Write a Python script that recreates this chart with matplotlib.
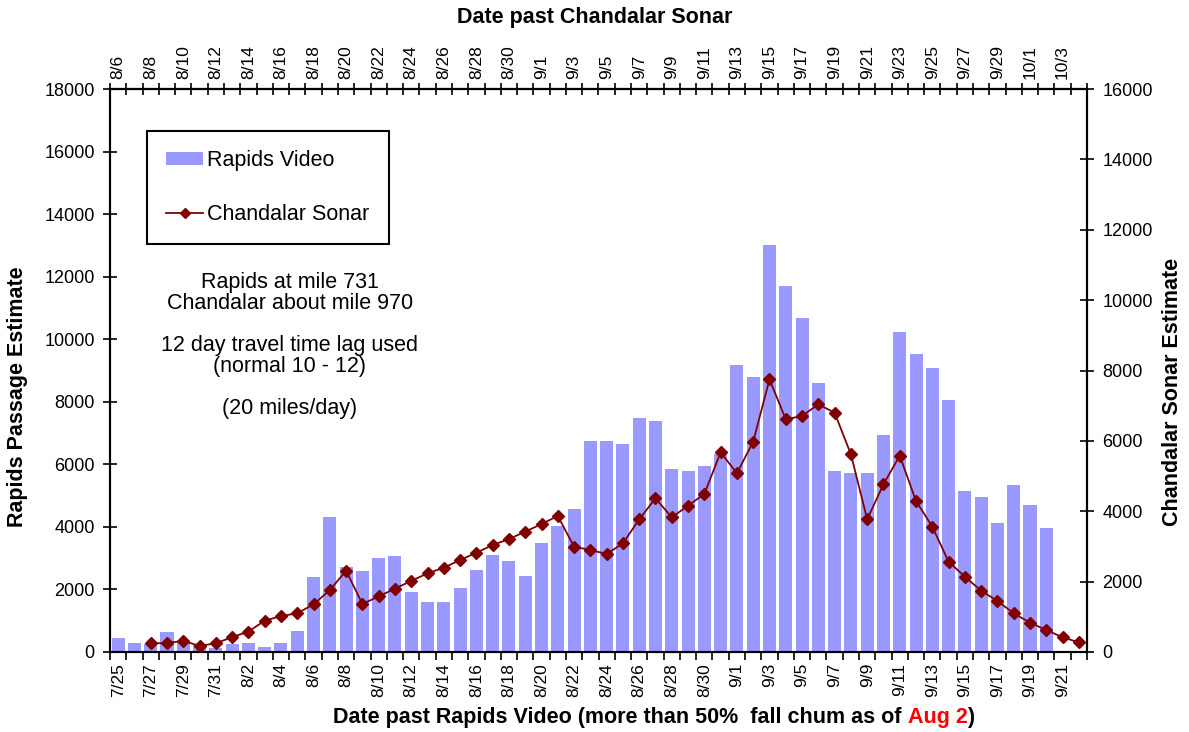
import numpy as np
import pandas as pd
import matplotlib
matplotlib.use("Agg")
import matplotlib.pyplot as plt
from matplotlib.patches import Patch
from matplotlib.lines import Line2D

plt.rcParams['font.family'] = ['Liberation Sans', 'DejaVu Sans']

# --- data ---
LAG_DAYS = 12  # travel time Rapids -> Chandalar
rapids_dates = pd.date_range("2010-07-25", "2010-09-22")
sonar_dates = rapids_dates + pd.Timedelta(days=LAG_DAYS)
date_labels = [f"{d.month}/{d.day}" for d in rapids_dates]
top_labels = [f"{d.month}/{d.day}" for d in sonar_dates]

# Rapids video passage, 7/25 - 9/20
rapids_video = [
    440, 300, 260, 630, 300, 270, 140,
    250, 300, 150, 300, 680, 2390, 4330, 2730, 2590, 3010,
    3060, 1910, 1610, 1610, 2050, 2620, 3110, 2920, 2430, 3500,
    4040, 4560, 6750, 6750, 6650, 7470, 7390, 5840, 5790, 5960, 6320,
    9180, 8800, 13010, 11700, 10690, 8610, 5790, 5710, 5710, 6940,
    10240, 9520, 9090, 8060, 5150, 4950, 4110, 5340, 4700, 3970,
]
# Chandalar sonar, lagged onto rapids dates 7/27 - 9/22
SONAR_START = 2
chandalar_sonar = [
    250, 250, 320, 170, 250,
    420, 580, 890, 1020, 1100, 1355, 1760, 2310, 1365, 1580,
    1800, 2020, 2236, 2396, 2614, 2822, 3041, 3211, 3419, 3637,
    3865, 2992, 2899, 2785, 3088, 3771, 4368, 3827, 4158, 4490, 5675,
    5078, 5977, 7750, 6613, 6707, 7039, 6801, 5618, 3771, 4766,
    5580, 4291, 3561, 2566, 2140, 1742, 1449, 1099, 833, 625,
    417, 276,
]

NOTE = ("Rapids at mile 731\nChandalar about mile 970\n\n"
        "12 day travel time lag used\n(normal 10 - 12)\n\n(20 miles/day)")

BAR_COLOR = '#9999ff'
LINE_COLOR = '#800000'

fig = plt.figure(figsize=(11.89, 7.32), dpi=100)
ax = fig.add_axes([110 / 1189, 1 - 652 / 732, 977 / 1189, 563 / 732])
ax2 = ax.twinx()

x = np.arange(len(date_labels))
ax.bar(x[:len(rapids_video)], rapids_video, width=0.8, color=BAR_COLOR, zorder=2)
ax2.plot(x[SONAR_START:SONAR_START + len(chandalar_sonar)], chandalar_sonar,
         color=LINE_COLOR, lw=1.3, marker='D', ms=6.5, zorder=3)

ax.set_xlim(-0.5, len(x) - 0.5)
ax.set_ylim(0, 18000)
ax2.set_ylim(0, 16000)
ax.set_yticks(np.arange(0, 18001, 2000))
ax2.set_yticks(np.arange(0, 16001, 2000))

bounds = np.arange(-0.5, len(x))
ax.set_xticks(bounds, labels=[])
ax.set_xticks(x[::2], labels=date_labels[::2], minor=True)
ax.tick_params(axis='x', which='minor', length=0, labelsize=12.5, labelrotation=90, pad=8)
ax.tick_params(axis='x', which='major', direction='out', length=6, width=1.2)

top = ax.secondary_xaxis('top')
top.set_xticks(bounds, labels=[])
top.set_xticks(x[::2], labels=top_labels[::2], minor=True)
top.tick_params(axis='x', which='minor', length=0, labelsize=12.5, labelrotation=90, pad=7)
top.tick_params(axis='x', which='major', direction='inout', length=8, width=1.2)
top.spines['top'].set_linewidth(1.5)

ax.tick_params(axis='y', direction='inout', length=10, width=1.2, labelsize=13, pad=6)
ax2.tick_params(axis='y', direction='inout', length=10, width=1.2, labelsize=13, pad=6)
for a in (ax, ax2):
    for s in a.spines.values():
        s.set_linewidth(1.5)

ax.set_ylabel('Rapids Passage Estimate', fontsize=15.5, fontweight='bold')
ax.yaxis.set_label_coords(-0.084, 0.453)
ax2.set_ylabel('Chandalar Sonar Estimate', fontsize=15.5, fontweight='bold')
ax2.yaxis.set_label_coords(1.077, 0.462)

fig.text(595 / 1189, 1 - 18 / 732, 'Date past Chandalar Sonar',
         ha='center', va='center', fontsize=15.5, fontweight='bold')

# bottom title, "Aug 2" in red
t1 = fig.text(333 / 1189, 1 - 718 / 732,
              'Date past Rapids Video (more than 50%  fall chum as of ',
              ha='left', va='center', fontsize=15.5, fontweight='bold')
t2 = ax.annotate('Aug 2', xy=(1, 0), xycoords=t1, ha='left', va='bottom',
                 fontsize=15.5, fontweight='bold', color='red')
ax.annotate(')', xy=(1, 0), xycoords=t2, ha='left', va='bottom',
            fontsize=15.5, fontweight='bold')

ax2.text(0.184, 0.545, NOTE, transform=ax.transAxes, ha='center', va='center',
         fontsize=15.5, linespacing=1.0)

handles = [Patch(facecolor=BAR_COLOR, label='Rapids Video'),
           Line2D([], [], color=LINE_COLOR, marker='D', ms=5, lw=1.3, label='Chandalar Sonar')]
leg = ax2.legend(handles=handles, loc='upper left', bbox_to_anchor=(0.0379, 0.9254),
                 fontsize=15.5, fancybox=False, edgecolor='black', framealpha=1,
                 borderpad=0.9, labelspacing=1.5, handlelength=1.7, handleheight=0.55,
                 handletextpad=0.2, borderaxespad=0)
leg.get_frame().set_linewidth(1.5)

fig.savefig('out.png', dpi=100)
